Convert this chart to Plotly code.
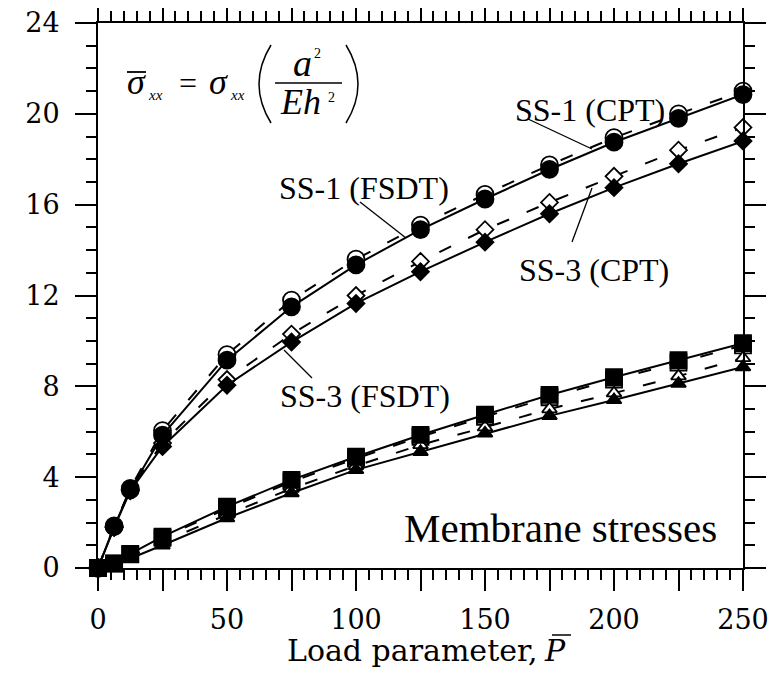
import plotly.graph_objects as go

# ---------------- data ----------------
load = [0, 6.25, 12.5, 25, 50, 75, 100, 125, 150, 175, 200, 225, 250]

ss1_cpt = [0, 1.85, 3.5, 6.05, 9.4, 11.8, 13.6, 15.1, 16.45, 17.75, 18.95, 20.0, 21.0]
ss1_fsdt = [0, 1.82, 3.44, 5.85, 9.15, 11.5, 13.35, 14.9, 16.25, 17.55, 18.75, 19.8, 20.85]
ss3_cpt = [0, 1.8, 3.45, 5.5, 8.3, 10.3, 12.0, 13.5, 14.9, 16.1, 17.25, 18.4, 19.4]
ss3_fsdt = [0, 1.78, 3.4, 5.35, 8.05, 9.95, 11.65, 13.05, 14.35, 15.6, 16.75, 17.8, 18.8]

sq_open = [0, 0.19, 0.6, 1.33, 2.62, 3.8, 4.82, 5.78, 6.66, 7.52, 8.3, 9.05, 9.8]
sq_filled = [0, 0.2, 0.62, 1.38, 2.7, 3.88, 4.9, 5.86, 6.75, 7.62, 8.4, 9.15, 9.9]
tri_open = [0, 0.15, 0.5, 1.15, 2.35, 3.5, 4.5, 5.42, 6.2, 7.0, 7.7, 8.45, 9.25]
tri_filled = [0, 0.12, 0.42, 1.0, 2.2, 3.3, 4.32, 5.12, 5.93, 6.7, 7.4, 8.12, 8.85]

x_ticks = [0, 25, 50, 75, 100, 125, 150, 175, 200, 225, 250]
x_ticklabels = ["0", "", "50", "", "100", "", "150", "", "200", "", "250"]
y_ticks = [0, 4, 8, 12, 16, 20, 24]

# ---------------- figure ----------------
# page has an 8px body margin; plot area in page pixels: x 98..743, y 23..568
OFF = 8
W, H = 775, 665
L, R, T, B = 90, 40, 15, 105
PW, PH = W - L - R, H - T - B
X0, Y1 = L + OFF, H - B + OFF


def px(xp):
    return (xp - X0) / PW


def py(yp):
    return (Y1 - yp) / PH


fig = go.Figure()

DASH = "13px,19px"


def add(y, symbol, size, filled, dashed):
    fig.add_trace(go.Scatter(
        x=load, y=y, mode="lines+markers", cliponaxis=False,
        line=dict(color="black", width=2, dash=DASH if dashed else "solid"),
        marker=dict(symbol=symbol, size=size,
                    color="black" if filled else "white",
                    line=dict(color="black", width=1.8)),
        showlegend=False))


add(ss1_cpt, "circle", 17, False, True)
add(ss3_cpt, "diamond", 13, False, True)
add(sq_open, "square", 16, False, True)
add(tri_open, "triangle-up", 13, False, True)
add(ss1_fsdt, "circle", 17, True, False)
add(ss3_fsdt, "diamond", 13, True, False)
add(sq_filled, "square", 16, True, False)
add(tri_filled, "triangle-up", 13, True, False)

tickfont = dict(family="DejaVu Serif", size=27, color="black")
axis_common = dict(
    showline=True, linecolor="black", linewidth=2, mirror="allticks",
    ticks="outside", ticklen=21, tickwidth=2, tickcolor="black",
    showgrid=False, zeroline=False, tickfont=tickfont, automargin=False,
    ticklabeloverflow="allow",
)
fig.update_xaxes(range=[0, 250], tickvals=x_ticks, ticktext=x_ticklabels,
                 minor=dict(dtick=5, ticks="outside", ticklen=10, tickwidth=1.5,
                            tickcolor="black", showgrid=False),
                 ticklabelstandoff=6, **axis_common)
fig.update_yaxes(range=[0, 24], tickvals=y_ticks,
                 minor=dict(dtick=1, ticks="outside", ticklen=10, tickwidth=1.5,
                            tickcolor="black", showgrid=False),
                 ticklabelstandoff=10, **axis_common)

serif = "Liberation Serif"
ann = []


def text(t, xp, yp, size, family=serif, italic=False, anchor="center"):
    if italic:
        t = "<i>" + t + "</i>"
    ann.append(dict(text=t, x=px(xp), y=py(yp), xref="paper", yref="paper",
                    xanchor=anchor, yanchor="middle", showarrow=False,
                    font=dict(family=family, size=size, color="black")))


text("SS-1 (CPT)", 590, 110, 32)
text("SS-1 (FSDT)", 364, 188, 32)
text("SS-3 (CPT)", 594, 270, 32)
text("SS-3 (FSDT)", 365, 396, 32)
text("Membrane stresses", 560, 528, 41)
text("Load parameter,", 540, 650, 30, family="DejaVu Serif", anchor="right")
text("P", 555, 650, 30, family="DejaVu Serif", italic=True)

# formula
text("\u03c3", 136, 82, 36, italic=True)
text("xx", 155, 95, 15, italic=True)
text("=", 188, 83, 32)
text("\u03c3", 218, 82, 36, italic=True)
text("xx", 237, 95, 15, italic=True)
text("a", 302, 63, 38, italic=True)
text("2", 317, 53, 14)
text("Eh", 300, 102, 36, italic=True)
text("2", 331, 97, 14)

fig.update_layout(annotations=ann)

shapes = []


def seg(x0, y0, x1, y1, w=1.3):
    shapes.append(dict(type="line", xref="paper", yref="paper",
                       x0=px(x0), y0=py(y0), x1=px(x1), y1=py(y1),
                       line=dict(color="black", width=w)))


seg(528, 119, 592, 149)
seg(360, 202, 406, 238)
seg(572, 242, 592, 188)
seg(284, 350, 312, 378)
seg(275, 83, 342, 83, 1.5)       # fraction bar
seg(127, 72, 146, 72, 1.8)       # bar over sigma
seg(552, 635, 571, 635, 1.5)     # bar over P


def paren(x0, xc, ytop, ybot):
    ym = (ytop + ybot) / 2
    path = "M {:.5f},{:.5f} Q {:.5f},{:.5f} {:.5f},{:.5f}".format(
        px(x0), py(ytop), px(xc), py(ym), px(x0), py(ybot))
    shapes.append(dict(type="path", xref="paper", yref="paper", path=path,
                       line=dict(color="black", width=1.5)))


paren(271, 247, 45, 123)
paren(346, 370, 45, 123)

fig.update_layout(
    shapes=shapes,
    width=W, height=H,
    margin=dict(l=L, r=R, t=T, b=B, pad=0),
    paper_bgcolor="white", plot_bgcolor="white",
)

fig.write_html("out.html")
